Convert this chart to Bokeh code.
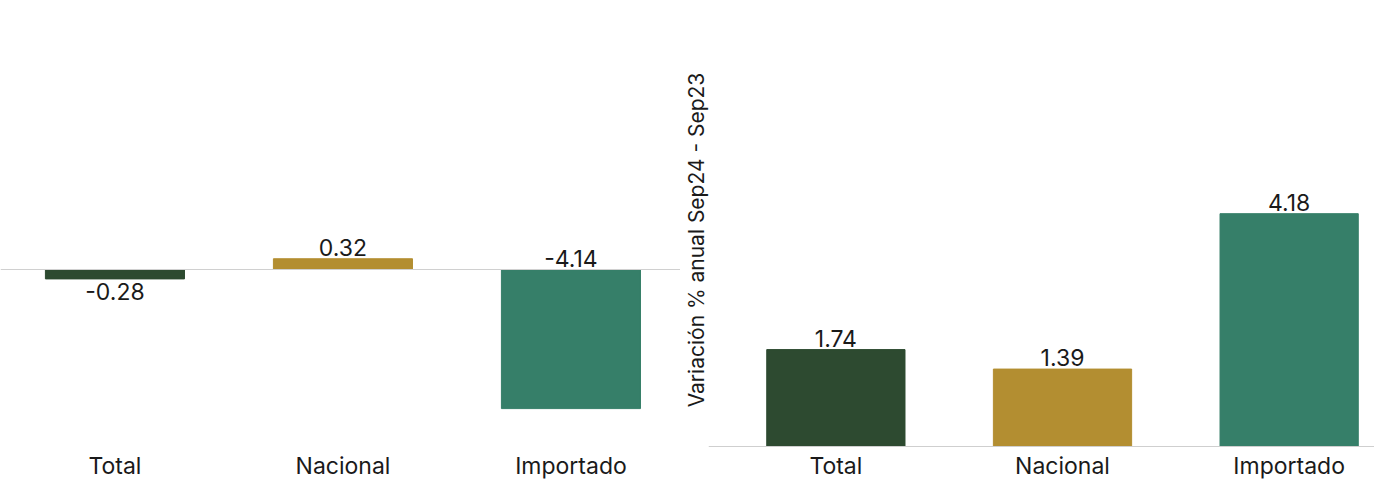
from bokeh.plotting import figure
from bokeh.layouts import row
from bokeh.models import Range1d, Span
from bokeh.core.properties import value
from bokeh.embed import file_html
from bokeh.resources import INLINE

categories = ["Total", "Nacional", "Importado"]
left_values = [-0.28, 0.32, -4.14]
right_values = [1.74, 1.39, 4.18]
colors = ["#2d4a30", "#b38e31", "#367f69"]
right_ylabel = "Variación % anual Sep24 - Sep23"
FONT = "Inter"
FS = "23px"
TC = "#1a1a1a"

xs = [0.5, 1.5, 2.5]
H = 479
LU = 33.6   # px per unit, left
RU = 55.7   # px per unit, right

def style(p, label_y):
    p.xaxis.visible = False
    p.xgrid.visible = False
    p.ygrid.visible = False
    p.outline_line_color = None
    p.yaxis.major_tick_line_color = None
    p.yaxis.minor_tick_line_color = None
    p.yaxis.major_tick_out = 0
    p.yaxis.minor_tick_out = 0
    p.yaxis.major_label_text_font_size = "0px"
    p.yaxis.axis_line_color = None
    p.text(x=xs, y=[label_y] * 3, text=categories, text_align="center",
           text_baseline="middle", y_offset=19, text_font=value(FONT),
           text_font_size=FS, text_color=TC)

# Left
pl = figure(width=680, height=H, x_range=Range1d(-0.002, -0.002 + 680 / 228),
            y_range=Range1d(-(H - 269) / LU, 269 / LU), output_backend="svg",
            toolbar_location=None, min_border_left=0, min_border_right=0,
            min_border_top=0, min_border_bottom=0)
pl.yaxis.visible = False
pl.add_layout(Span(location=0, dimension="width", line_color="#d0d0d0", line_width=1))
pl.vbar(x=xs, top=left_values, bottom=0, width=0.61, color=colors)
style(pl, -(446 - 269) / LU)
for i, v in enumerate(left_values):
    if i == 0:
        pl.text(x=[xs[i]], y=[min(v, 0)], text=[f"{v:.2f}"], text_align="center",
                text_baseline="top", y_offset=4, text_font=value(FONT),
                text_font_size=FS, text_color=TC)
    else:
        pl.text(x=[xs[i]], y=[max(v, 0)], text=[f"{v:.2f}"], text_align="center",
                text_baseline="bottom", y_offset=-3, text_font=value(FONT),
                text_font_size=FS, text_color=TC)

# Right
pr = figure(width=694, height=H, x_range=Range1d(-0.062, -0.062 + 670 / 228),
            y_range=Range1d(-(H - 446) / RU, 446 / RU), output_backend="svg",
            toolbar_location=None, min_border_left=22, min_border_right=0,
            min_border_top=0, min_border_bottom=0)
pr.add_layout(Span(location=0, dimension="width", line_color="#cfcfcf", line_width=1))
pr.vbar(x=xs, top=right_values, bottom=0, width=0.61, color=colors)
style(pr, 0)
pr.yaxis.axis_label = right_ylabel
pr.yaxis.axis_label_text_font = FONT
pr.yaxis.axis_label_text_font_style = "normal"
pr.yaxis.axis_label_text_font_size = "21px"
pr.yaxis.axis_label_text_color = TC
pr.yaxis.axis_label_standoff = 0
pr.text(x=xs, y=right_values, text=[f"{v:.2f}" for v in right_values],
        text_align="center", text_baseline="bottom", y_offset=-3,
        text_font=value(FONT), text_font_size=FS, text_color=TC)

layout = row(pl, pr, spacing=0)
open("out.html", "w").write(file_html(layout, INLINE))
